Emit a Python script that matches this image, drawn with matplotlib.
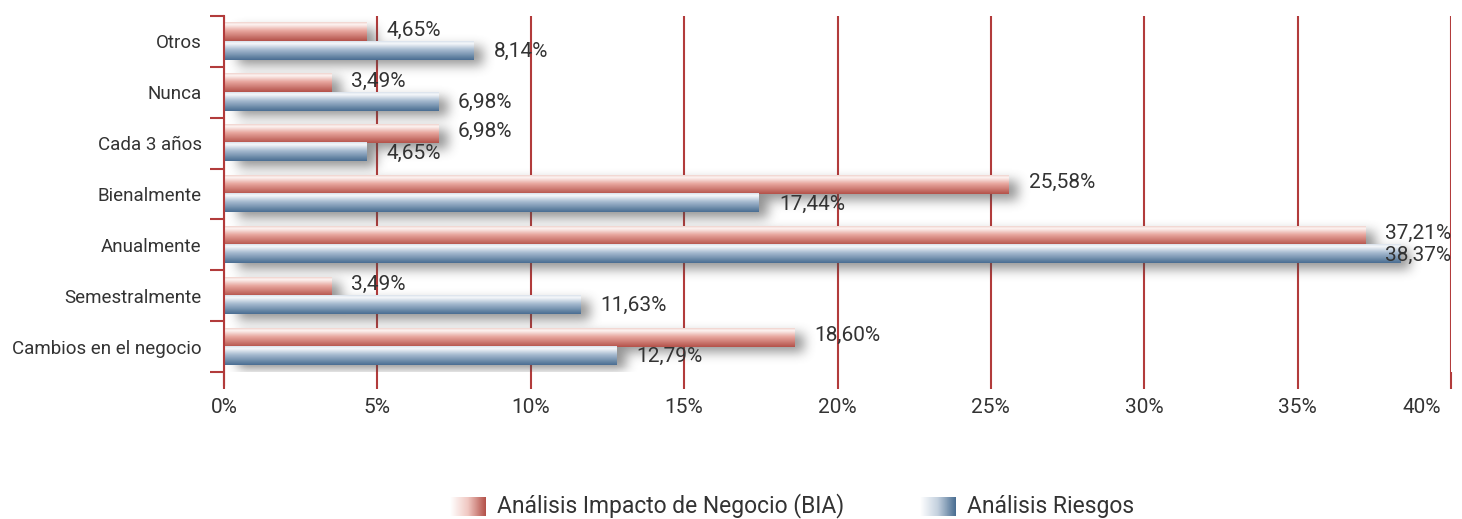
import numpy as np
import matplotlib
matplotlib.use("Agg")
import matplotlib.pyplot as plt
import matplotlib.transforms as mtransforms
from matplotlib.colors import LinearSegmentedColormap

categories = ["Cambios en el negocio", "Semestralmente", "Anualmente",
              "Bienalmente", "Cada 3 años", "Nunca", "Otros"]
bia = [18.60, 3.49, 37.21, 25.58, 6.98, 3.49, 4.65]
riesgos = [12.79, 11.63, 38.37, 17.44, 4.65, 6.98, 8.14]
series_names = ["Análisis Impacto de Negocio (BIA)", "Análisis Riesgos"]
xticks = [0, 5, 10, 15, 20, 25, 30, 35, 40]

plt.rcParams['font.family'] = ['Roboto', 'DejaVu Sans']
TXT = '#333333'
GRID = '#b23b3b'

W, H = 1462, 519
fig = plt.figure(figsize=(W / 100, H / 100), dpi=100)
ax_l, ax_r, ax_t, ax_b = 224, 1451, 16, 372
ax = fig.add_axes([ax_l / W, 1 - ax_b / H, (ax_r - ax_l) / W, (ax_b - ax_t) / H])
XMAX = 40
YMIN, YMAX = -0.5, len(categories) - 0.5

red_cmap = LinearSegmentedColormap.from_list('r', [(0, '#f0d2cd'), (0.12, '#fdf4f2'), (0.45, '#e8a79f'), (1, '#b4524a')])
blue_cmap = LinearSegmentedColormap.from_list('b', [(0, '#d9e2ec'), (0.12, '#f6f8fb'), (0.45, '#a7bbd0'), (1, '#4a6e92')])

bh = 0.36
grad = np.linspace(0, 1, 64).reshape(-1, 1)

# shadow
pw, ph = ax_r - ax_l, ax_b - ax_t
mask = np.zeros((ph, pw))
def to_px(x, y):
    return x / XMAX * pw, (YMAX - y) / (YMAX - YMIN) * ph
for i in range(len(categories)):
    for v, y0 in ((bia[i], i), (riesgos[i], i - bh)):
        x1, yt = to_px(v, y0 + bh)
        _, yb = to_px(0, y0)
        dx, dy = 10, 6
        r0, r1 = int(yt + dy), int(yb + dy)
        c0, c1 = int(4 + dx), int(x1 + dx)
        mask[max(r0, 0):min(r1, ph), max(c0, 0):min(c1, pw)] = 1
def blur(a, r, axis):
    k = np.ones(2 * r + 1) / (2 * r + 1)
    return np.apply_along_axis(lambda m: np.convolve(m, k, mode='same'), axis, a)
for _ in range(3):
    mask = blur(mask, 5, 0)
    mask = blur(mask, 5, 1)
shadow = np.zeros((ph, pw, 4))
shadow[..., :3] = 0.3
shadow[..., 3] = np.clip(mask * 0.6, 0, 1)
ax.imshow(shadow, extent=(0, XMAX, YMIN, YMAX), origin='upper', aspect='auto',
          zorder=1, interpolation='bilinear')

for i in range(len(categories)):
    ax.imshow(grad, extent=(0, bia[i], i, i + bh), cmap=red_cmap, aspect='auto',
              origin='upper', zorder=2, interpolation='bilinear')
    ax.imshow(grad, extent=(0, riesgos[i], i - bh, i), cmap=blue_cmap, aspect='auto',
              origin='upper', zorder=2, interpolation='bilinear')

def fmt(v):
    return f"{v:.2f}%".replace('.', ',')

for i in range(len(categories)):
    for v, yc in ((bia[i], i + bh * 0.62), (riesgos[i], i - bh * 0.55)):
        if v + 0.7 + 2.3 > XMAX + 0.5:
            ax.text(XMAX + 0.02, yc, fmt(v), ha='right', va='center', fontsize=15,
                    color=TXT, zorder=5, clip_on=False)
        else:
            ax.text(v + 0.65, yc, fmt(v), ha='left', va='center', fontsize=15,
                    color=TXT, zorder=5, clip_on=False)

ax.set_xlim(0, XMAX)
ax.set_ylim(YMIN, YMAX)
ax.set_xticks(xticks)
ax.set_xticklabels([f"{t}%" for t in xticks])
ax.set_yticks(range(len(categories)))
ax.set_yticklabels(categories)
ax.set_yticks(np.arange(YMIN, YMAX + 0.01, 1), minor=True)
ax.tick_params(axis='y', which='major', length=0, pad=16, labelsize=13.5, labelcolor=TXT)
ax.tick_params(axis='y', which='minor', length=10, width=1.5, color=GRID)
ax.tick_params(axis='x', which='major', length=12, width=1.5, color=GRID,
               labelsize=15, labelcolor=TXT, pad=7)
last = ax.get_xticklabels()[-1]
last.set_horizontalalignment('right')
last.set_transform(last.get_transform() + mtransforms.ScaledTranslation(-10 / 100, 0, fig.dpi_scale_trans))
ax.grid(axis='x', color=GRID, linewidth=1.5, zorder=0)
ax.set_axisbelow(True)
for s in ['top', 'right', 'bottom']:
    ax.spines[s].set_visible(False)
ax.spines['left'].set_color(GRID)
ax.spines['left'].set_linewidth(1.5)
ax.spines['left'].set_bounds(YMIN - 0.25, YMAX)

# legend
hgrad = np.linspace(0, 1, 64).reshape(1, -1)
leg_red = LinearSegmentedColormap.from_list('lr', ['#ffffff', '#f0c8c2', '#b4524a'])
leg_blue = LinearSegmentedColormap.from_list('lb', ['#ffffff', '#c3d0de', '#4a6e92'])
for (x0, x1, cm, tx, name) in ((450, 486, leg_red, 497, series_names[0]),
                               (920, 956, leg_blue, 967, series_names[1])):
    la = fig.add_axes([x0 / W, 1 - 516 / H, (x1 - x0) / W, 19 / H])
    la.imshow(hgrad, cmap=cm, aspect='auto')
    la.axis('off')
    fig.text(tx / W, 1 - 506 / H, name, ha='left', va='center', fontsize=16.5,
             color=TXT)

fig.savefig('out.png', dpi=100)
